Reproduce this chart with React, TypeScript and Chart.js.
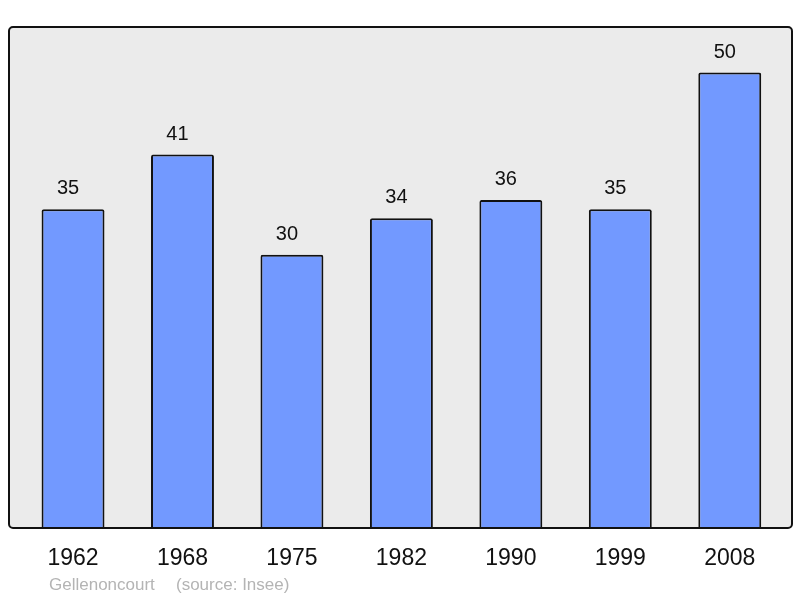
import React, { useEffect, useRef } from "react";
import { Chart, registerables } from "chart.js";

Chart.register(...registerables);

const years = ["1962", "1968", "1975", "1982", "1990", "1999", "2008"];
const population = [35, 41, 30, 34, 36, 35, 50];
const townName = "Gellenoncourt";
const sourceText = "(source: Insee)";
const yMax = 55;

const FONT = "'Liberation Sans', Arial, sans-serif";

const decorPlugin = {
  id: "decor",
  beforeDraw(chart: any) {
    const ctx = chart.ctx;
    const x0 = 9, x1 = 792, y0 = 27, y1 = 528;
    ctx.save();
    ctx.fillStyle = "#ebebeb";
    ctx.beginPath();
    (ctx as any).roundRect(x0, y0, x1 - x0, y1 - y0, 4);
    ctx.fill();
    ctx.restore();
  },
  afterDatasetsDraw(chart: any) {
    const ctx = chart.ctx;
    const xs = chart.scales.x;
    const ys = chart.scales.y;
    const x0 = 9, x1 = 792, y0 = 27, y1 = 528;
    ctx.save();
    ctx.strokeStyle = "#111";
    ctx.lineWidth = 2;
    ctx.beginPath();
    (ctx as any).roundRect(x0, y0, x1 - x0, y1 - y0, 4);
    ctx.stroke();

    ctx.fillStyle = "#111";
    ctx.textAlign = "center";
    ctx.textBaseline = "alphabetic";
    ctx.font = `20px ${FONT}`;
    population.forEach((v, i) => {
      const x = xs.getPixelForValue(i);
      const y = ys.getPixelForValue(v);
      ctx.fillText(String(v), x - 5, y - 15);
    });
    ctx.font = `23px ${FONT}`;
    years.forEach((lab, i) => {
      const x = xs.getPixelForValue(i);
      ctx.fillText(lab, x, 565);
    });
    ctx.textAlign = "left";
    ctx.fillStyle = "#b4b4b4";
    ctx.font = `17px ${FONT}`;
    ctx.fillText(townName, 49, 590);
    ctx.fillText(sourceText, 176, 590);
    ctx.restore();
  },
};

export default function App() {
  const ref = useRef<HTMLCanvasElement>(null);
  useEffect(() => {
    if (!ref.current) return;
    const chart = new Chart(ref.current, {
      type: "bar",
      data: {
        labels: years,
        datasets: [
          {
            data: population,
            backgroundColor: "#7299ff",
            borderColor: "#111",
            borderWidth: 2,
            borderRadius: 2,
            borderSkipped: "bottom",
            barPercentage: 0.575,
            categoryPercentage: 1,
          },
        ],
      },
      options: {
        responsive: false,
        animation: false,
        layout: { padding: { left: 18.3, right: 15.5, top: 27, bottom: 70 } },
        plugins: { legend: { display: false }, tooltip: { enabled: false } },
        scales: {
          x: { display: false, offset: true },
          y: { display: false, min: 0, max: yMax },
        },
      },
      plugins: [decorPlugin],
    });
    return () => chart.destroy();
  }, []);
  return (
    <div style={{ position: "fixed", left: 0, top: 0, width: 800, height: 598, background: "#fff" }}>
      <canvas ref={ref} width={800} height={598} style={{ display: "block" }} />
    </div>
  );
}
